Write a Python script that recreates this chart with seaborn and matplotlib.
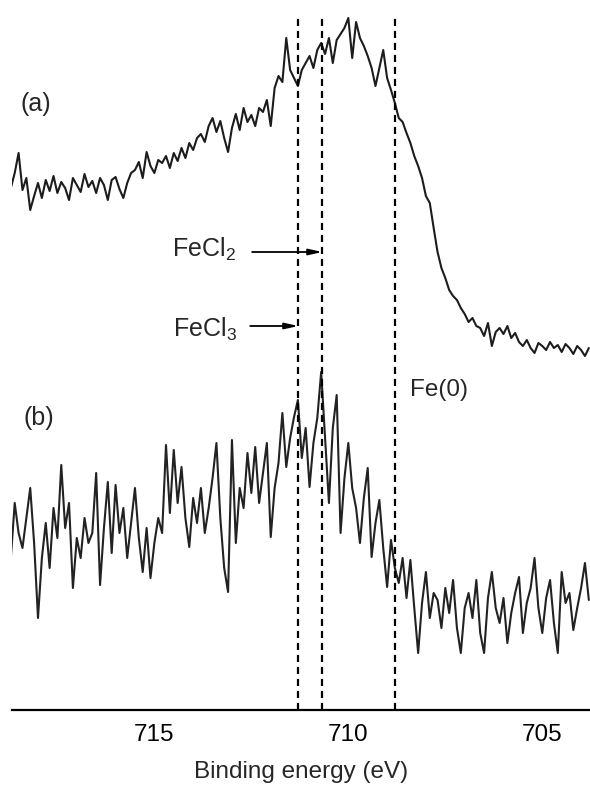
import numpy as np
import pandas as pd
import matplotlib
matplotlib.use("Agg")
import matplotlib.pyplot as plt
import seaborn as sns

# Fe 2p3/2 XPS spectra, intensities (arbitrary units, offset)
energy = np.round(np.linspace(718.7, 703.8, 150), 2)

spectrum_a = [
    530, 545, 565, 528, 540, 508, 522, 535, 520, 538,
    527, 542, 525, 536, 530, 518, 540, 533, 526, 544,
    531, 537, 525, 540, 533, 518, 538, 541, 529, 520,
    535, 545, 548, 556, 540, 566, 552, 545, 558, 555,
    562, 550, 565, 557, 570, 560, 575, 568, 580, 584,
    576, 592, 600, 586, 597, 580, 566, 590, 604, 588,
    610, 596, 603, 592, 610, 606, 618, 592, 630, 642,
    636, 680, 648, 640, 632, 648, 655, 662, 650, 668,
    675, 664, 680, 655, 678, 684, 690, 700, 660, 696,
    680, 672, 662, 650, 632, 650, 668, 640, 628, 615,
    600, 596, 585, 575, 562, 552, 540, 522, 515, 490,
    466, 450, 440, 428, 422, 418, 410, 404, 396, 400,
    392, 390, 382, 395, 372, 386, 390, 384, 392, 380,
    385, 376, 372, 378, 370, 365, 375, 372, 368, 376,
    370, 373, 366, 374, 370, 364, 372, 368, 362, 370,
]

spectrum_b = [
    160, 215, 185, 170, 200, 230, 175, 100, 160, 195,
    150, 210, 180, 253, 190, 215, 130, 180, 160, 200,
    175, 185, 245, 133, 190, 236, 165, 233, 185, 210,
    160, 195, 230, 180, 146, 190, 140, 175, 200, 185,
    273, 205, 268, 215, 251, 200, 171, 220, 195, 230,
    185, 210, 240, 275, 200, 150, 126, 278, 175, 230,
    210, 265, 225, 271, 215, 245, 275, 181, 230, 255,
    305, 251, 280, 301, 318, 260, 290, 231, 275, 300,
    346, 280, 215, 290, 323, 185, 240, 275, 230, 210,
    175, 220, 250, 161, 195, 218, 170, 131, 178, 150,
    135, 160, 120, 158, 110, 65, 115, 146, 100, 125,
    118, 90, 130, 105, 138, 90, 65, 110, 125, 100,
    138, 85, 65, 120, 146, 110, 95, 120, 75, 105,
    125, 141, 85, 115, 130, 160, 110, 85, 120, 138,
    95, 65, 146, 115, 125, 88, 110, 130, 155, 118,
]

# reference lines
peak_labels = ["FeCl$_\\mathregular{3}$", "FeCl$_\\mathregular{2}$", "Fe(0)"]
peak_energies = [711.29, 710.67, 708.80]

tick_values = [715, 710, 705]

#############################################

df = pd.DataFrame({"energy": energy, "a": spectrum_a, "b": spectrum_b})
long_df = df.melt(id_vars="energy", var_name="spectrum", value_name="intensity")

sns.set_style("white")
plt.rcParams['font.family'] = ['Liberation Sans', 'DejaVu Sans']
plt.rcParams['mathtext.fontset'] = 'custom'
plt.rcParams['mathtext.rm'] = 'Liberation Sans'

fig = plt.figure(figsize=(5.9, 7.85), dpi=100)
ax = fig.add_axes([12 / 590, 75 / 785, 578 / 590, 710 / 785])

sns.lineplot(data=long_df, x="energy", y="intensity", hue="spectrum",
             palette=["#1c1c1c", "#222222"], estimator=None, sort=False,
             linewidth=1.5, legend=False, ax=ax)

ax.set_xlim(718.67, 703.77)
ax.set_ylim(8, 718)

# dashed marker lines
ax.vlines(peak_energies, 8, 703, colors="black", linestyles=(0, (3.2, 2.2)),
          linewidth=1.6)

# labels
ax.text(718.46, 614, "(a)", fontsize=18, ha="left", va="center")
ax.text(718.38, 300, "(b)", fontsize=18, ha="left", va="center")

ax.text(714.54, 461, peak_labels[1], fontsize=18, ha="left", va="baseline")
ax.annotate("", xy=(peak_energies[1], 466), xytext=(712.48, 466),
            arrowprops=dict(arrowstyle="-|>,head_length=0.8,head_width=0.18",
                            color="black", lw=1.3, shrinkA=0, shrinkB=0))

ax.text(714.52, 381, peak_labels[0], fontsize=18, ha="left", va="baseline")
ax.annotate("", xy=(peak_energies[0], 392), xytext=(712.53, 392),
            arrowprops=dict(arrowstyle="-|>,head_length=0.8,head_width=0.18",
                            color="black", lw=1.3, shrinkA=0, shrinkB=0))

ax.text(708.41, 322, peak_labels[2], fontsize=17.5, ha="left", va="baseline")

# axes styling: only bottom axis
for side in ["top", "left", "right"]:
    ax.spines[side].set_visible(False)
ax.spines["bottom"].set_linewidth(1.6)
ax.spines["bottom"].set_color("black")

ax.set_xticks(tick_values)
ax.set_xticklabels([str(t) for t in tick_values])
ax.set_yticks([])
ax.tick_params(axis="x", direction="in", length=12, width=1.5, pad=10,
               labelsize=17.5, colors="black")
ax.set_xlabel("Binding energy (eV)", fontsize=17.5, labelpad=11)
ax.set_ylabel("")

fig.savefig("out.png", dpi=100)
